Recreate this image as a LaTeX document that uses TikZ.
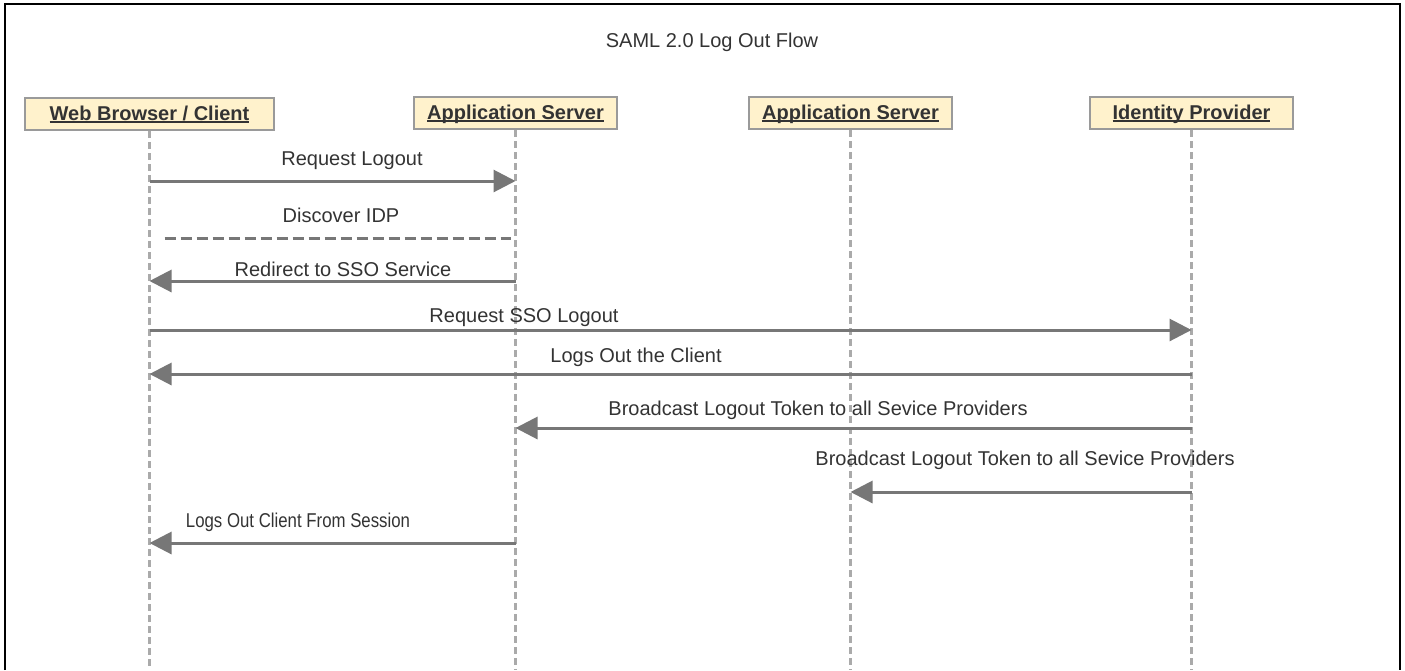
\documentclass[tikz,border=0pt]{standalone}
\usepackage{fontspec}
\setmainfont{Liberation Sans}
\usetikzlibrary{arrows.meta,calc}
\definecolor{boxfill}{HTML}{FFF2CC}
\definecolor{boxline}{HTML}{9A9A9A}
\definecolor{txt}{HTML}{333333}
\definecolor{msgc}{HTML}{777777}
\definecolor{lifec}{HTML}{AAAAAA}
\newcommand\myul[1]{\leavevmode\setbox0\hbox{#1}\rlap{\rule[-3pt]{\wd0}{1.6pt}}\box0}
\begin{document}
\begin{tikzpicture}[x=1pt,y=-1pt,
  actor/.style={draw=boxline, line width=2.5pt, fill=boxfill, minimum height=32pt, inner sep=0pt, text height=16pt, text depth=4pt, font=\fontsize{20}{24}\selectfont\bfseries, text=txt},
  life/.style={draw=lifec, line width=2.5pt, dash pattern=on 7pt off 4pt},
  msg/.style={draw=msgc, line width=3pt, -{Triangle[length=22pt,width=22pt]}},
  dline/.style={draw=msgc, line width=3pt, dash pattern=on 11pt off 5pt},
  lbl/.style={font=\fontsize{20}{24}\selectfont, text=txt, anchor=base, inner sep=0pt},
]
\useasboundingbox (0,0) rectangle (1405,670);
\draw[line width=2pt] (5,670) -- (5,4) -- (1400,4) -- (1400,670);

\node[lbl] (title) at (712,47) {SAML 2.0 Log Out Flow};

\coordinate (bot) at (0,670);
\node[actor, minimum width=249pt] (wb) at (149.5,114) {\myul{Web Browser / Client}};
\node[actor, minimum width=203pt] (as1) at (515.5,113) {\myul{Application Server}};
\node[actor, minimum width=203pt] (as2) at (850.5,113) {\myul{Application Server}};
\node[actor, minimum width=203pt] (idp) at (1191.5,113) {\myul{Identity Provider}};

\draw[life] (wb.south) -- (wb.south |- bot);
\draw[life] (as1.south) -- (as1.south |- bot);
\draw[life] (as2.south) -- (as2.south |- bot);
\draw[life] (idp.south) -- (idp.south |- bot);

\coordinate (r1) at (0,181);
\coordinate (r2) at (0,238);
\coordinate (r3) at (0,281);
\coordinate (r4) at (0,330);
\coordinate (r5) at (0,374);
\coordinate (r6) at (0,428);
\coordinate (r7) at (0,492);
\coordinate (r8) at (0,543);

\node[lbl] (l1) at (352,165) {Request Logout};
\draw[msg] (wb |- r1) -- (as1 |- r1);

\node[lbl] (l2) at (341,222) {Discover IDP};
\draw[dline] ($(wb |- r2)+(15,0)$) -- ($(as1 |- r2)+(-5,0)$);

\node[lbl] (l3) at (343,276) {Redirect to SSO Service};
\draw[msg] (as1 |- r3) -- (wb |- r3);

\node[lbl] (l4) at (524,322) {Request SSO Logout};
\draw[msg] (wb |- r4) -- (idp |- r4);

\node[lbl] (l5) at (636,362) {Logs Out the Client};
\draw[msg] (idp |- r5) -- (wb |- r5);

\node[lbl] (l6) at (818,415) {Broadcast Logout Token to all Sevice Providers};
\draw[msg] (idp |- r6) -- (as1 |- r6);

\node[lbl] (l7) at (1025,465) {Broadcast Logout Token to all Sevice Providers};
\draw[msg] (idp |- r7) -- (as2 |- r7);

\node[lbl] (l8) at (298,527) {\scalebox{0.84}[1]{Logs Out Client From Session}};
\draw[msg] (as1 |- r8) -- (wb |- r8);
\end{tikzpicture}
\end{document}
